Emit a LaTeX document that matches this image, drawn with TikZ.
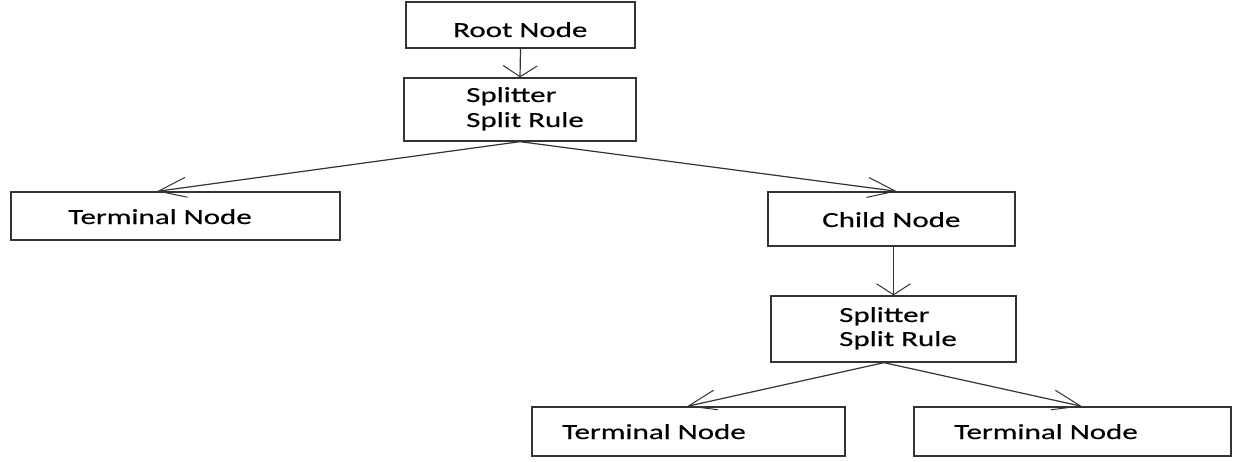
\documentclass[tikz,border=0pt]{standalone}
\usepackage{fontspec}
\newfontfamily\diagfont[FakeStretch=1.44,FakeBold=0.4]{Carlito}
\usetikzlibrary{arrows.meta,calc}
\begin{document}
\begin{tikzpicture}[x=1pt,y=-1pt,
  box/.style={draw=black!80, line width=1.3pt, rectangle, inner sep=0pt},
  lbl/.style={anchor=base west, inner sep=0pt, font=\diagfont\fontsize{21.5pt}{24pt}\selectfont, text=black},
  vline/.style={draw=black!80, line width=1.2pt, -{Straight Barb[length=11pt,width=34pt,line width=1pt]}},
  sline/.style={draw=black!80, line width=1.2pt, -{Straight Barb[length=28pt,width=20pt,line width=1pt]}}]
\useasboundingbox[fill=white] (0,0) rectangle (1238,461);
% boxes
\node[box, minimum width=229pt, minimum height=46pt] (root) at (520.5,25) {};
\node[box, minimum width=232pt, minimum height=63pt] (s1) at (520,109.5) {};
\node[box, minimum width=329pt, minimum height=48pt] (t1) at (175.5,216) {};
\node[box, minimum width=247pt, minimum height=54pt] (child) at (891.5,219) {};
\node[box, minimum width=245pt, minimum height=66pt] (s2) at (893.5,329) {};
\node[box, minimum width=313pt, minimum height=49pt] (t2) at (688.5,431.5) {};
\node[box, minimum width=317pt, minimum height=49pt] (t3) at (1072.5,431.5) {};
% labels
\node[lbl] (lroot) at (453,37) {Root Node};
\node[lbl] (ls1a) at (466,102) {Splitter};
\node[lbl] (ls1b) at (466,127) {Split Rule};
\node[lbl] (lt1) at (68,224) {Terminal Node};
\node[lbl] (lchild) at (822,227) {Child Node};
\node[lbl] (ls2a) at (839,322) {Splitter};
\node[lbl] (ls2b) at (839,346) {Split Rule};
\node[lbl] (lt2) at (562,439) {Terminal Node};
\node[lbl] (lt3) at (954,439) {Terminal Node};
% connectors
\draw[vline] (root.south) -- (s1.north);
\draw[sline] (s1.south) -- ([xshift=-18.5pt]t1.north);
\draw[sline] (s1.south) -- ([xshift=5.5pt]child.north);
\coordinate (cs) at ([xshift=2pt]child.south);
\draw[vline] (cs) -- (cs |- s2.north);
\coordinate (s2a) at ([xshift=-9.5pt]s2.south);
\draw[sline] (s2a) -- ([xshift=-1.5pt]t2.north);
\draw[sline] (s2a) -- ([xshift=9.5pt]t3.north);
\end{tikzpicture}
\end{document}
